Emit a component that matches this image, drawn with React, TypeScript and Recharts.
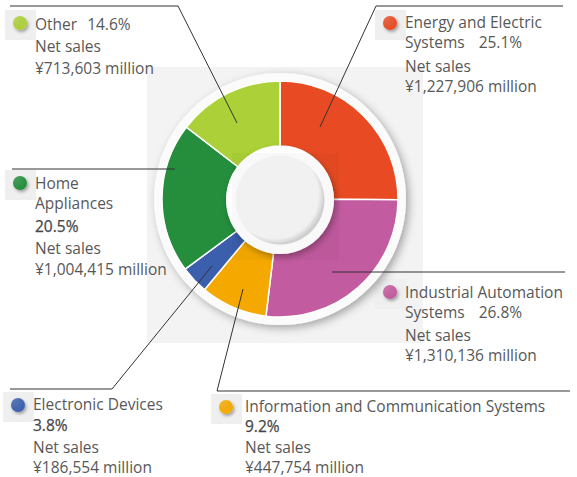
import React from 'react';
import { PieChart, Pie, Cell } from 'recharts';

const segments = [
  'Energy and Electric Systems',
  'Industrial Automation Systems',
  'Information and Communication Systems',
  'Electronic Devices',
  'Home Appliances',
  'Other',
];
const netSales = [1227906, 1310136, 447754, 186554, 1004415, 713603];
const shares = [25.1, 26.8, 9.2, 3.8, 20.5, 14.6];
const colors = ['#e84b23', '#c25b9f', '#f5a900', '#3b5fad', '#248e3c', '#acd037'];

const W = 577;
const H = 477;
const CX = 280;
const CY = 199;

// label placement, per segment (same order as above)
const layout = [
  { x: 405, lines: [28, 48, 72, 92], wrap: 3, pctInline: true, gap: 14, marker: [390, 23], leader: [[320, 127], [376, 6], [563, 6]] },
  { x: 405, lines: [298, 318, 341, 361], wrap: 2, pctInline: true, gap: 14, marker: [390, 292], leader: [[332, 272], [565, 272]] },
  { x: 245, lines: [412, 432, 453, 473], wrap: 0, pctInline: false, gap: 0, marker: [226, 407], leader: [[243, 289], [217, 391], [570, 391]] },
  { x: 33, lines: [410, 431, 453, 473], wrap: 0, pctInline: false, gap: 0, marker: [18, 405], leader: [[212, 266], [112, 389], [10, 389]] },
  { x: 35, lines: [189, 209, 232, 254, 275], wrap: 1, pctInline: false, gap: 0, marker: [20, 183], leader: [[175, 169], [12, 169]] },
  { x: 35, lines: [30, 52, 74], wrap: 0, pctInline: true, gap: 10, marker: [20, 23], leader: [[237, 123], [178, 6], [10, 6]] },
];

const data = segments.map((name, i) => ({ name, value: netSales[i], share: shares[i] }));
const whole = [{ name: 'ring', value: 1 }];

const font = '"Open Sans", "DejaVu Sans", sans-serif';
const textColor = '#585858';

function Label({ i }: { i: number }) {
  const l = layout[i];
  const words = segments[i].split(' ');
  const nameLines = l.wrap > 0 ? [words.slice(0, l.wrap).join(' '), words.slice(l.wrap).join(' ')].filter(s => s) : [segments[i]];
  const pct = `${shares[i].toFixed(1)}%`;
  const rows: React.ReactNode[] = [];
  let k = 0;
  nameLines.forEach((s, j) => {
    const last = j === nameLines.length - 1;
    rows.push(
      <text key={k} x={l.x} y={l.lines[k]}>
        {s}
        {last && l.pctInline ? <tspan dx={l.gap}>{pct}</tspan> : null}
      </text>
    );
    k++;
  });
  if (!l.pctInline) {
    rows.push(<text key={k} x={l.x} y={l.lines[k]} fill="#474747" stroke="#474747" strokeWidth={0.25}>{pct}</text>);
    k++;
  }
  rows.push(<text key={k} x={l.x} y={l.lines[k]}>Net sales</text>);
  k++;
  rows.push(<text key={k} x={l.x} y={l.lines[k]}>{`¥${netSales[i].toLocaleString('en-US')} million`}</text>);
  return <g>{rows}</g>;
}

export default function App() {
  return (
    <div style={{ position: 'absolute', left: 0, top: 0, width: W, height: H, background: '#fff', overflow: 'hidden' }}>
      <svg width={W} height={H} style={{ position: 'absolute', left: 0, top: 0 }}>
        <defs>
          <filter id="ringShadow" x="-20%" y="-20%" width="140%" height="140%">
            <feDropShadow dx="3" dy="3" stdDeviation="4.5" floodColor="#000" floodOpacity="0.32" />
          </filter>
          <filter id="innerShadow" x="-30%" y="-30%" width="160%" height="160%">
            <feDropShadow dx="2" dy="3" stdDeviation="3" floodColor="#000" floodOpacity="0.3" />
          </filter>
          <filter id="dotShadow" x="-60%" y="-60%" width="220%" height="220%">
            <feDropShadow dx="1.5" dy="2" stdDeviation="1.5" floodColor="#000" floodOpacity="0.35" />
          </filter>
          <radialGradient id="holeGrad" cx="44%" cy="44%" r="56%">
            <stop offset="88%" stopColor="#f7f7f7" />
            <stop offset="100%" stopColor="#d4d4d4" />
          </radialGradient>
          {colors.map((c, i) => (
            <radialGradient key={i} id={`dot${i}`} cx="35%" cy="30%" r="75%">
              <stop offset="0%" stopColor={c} stopOpacity={0.8} />
              <stop offset="100%" stopColor={c} />
            </radialGradient>
          ))}
        </defs>
        <rect x={147} y={67} width={276} height={276} fill="#f3f3f3" />
        {layout.map((l, i) => (
          <rect key={i} x={l.marker[0] - 15} y={l.marker[1] - 13} width={31} height={30} fill="#efefef" />
        ))}
      </svg>

      <div style={{ position: 'absolute', left: 0, top: 0 }}>
        <PieChart width={W} height={H} margin={{ top: 0, right: 0, bottom: 0, left: 0 }}>
          <Pie data={whole} dataKey="value" cx={CX} cy={CY} innerRadius={0} outerRadius={126} startAngle={90} endAngle={-270} stroke="none" isAnimationActive={false}>
            <Cell fill="#fbfbfb" filter="url(#ringShadow)" />
          </Pie>
          <Pie data={data} dataKey="value" cx={CX} cy={CY} innerRadius={53} outerRadius={118} startAngle={90} endAngle={-270} stroke="#fff" strokeWidth={1.5} isAnimationActive={false}>
            {data.map((d, i) => (
              <Cell key={d.name} fill={colors[i]} />
            ))}
          </Pie>
          <Pie data={whole} dataKey="value" cx={CX} cy={CY + 1} innerRadius={0} outerRadius={54} startAngle={90} endAngle={-270} stroke="none" isAnimationActive={false}>
            <Cell fill="#ffffff" filter="url(#innerShadow)" />
          </Pie>
          <Pie data={whole} dataKey="value" cx={CX} cy={CY + 1} innerRadius={0} outerRadius={44.5} startAngle={90} endAngle={-270} stroke="none" isAnimationActive={false}>
            <Cell fill="url(#holeGrad)" />
          </Pie>
        </PieChart>
      </div>

      <svg width={W} height={H} style={{ position: 'absolute', left: 0, top: 0 }} fontFamily={font} fontSize={15.5} fill={textColor}>
        <rect x={232} y={153} width={107} height={107} fill="#000" fillOpacity={0.025} />
        {layout.map((l, i) => (
          <polyline key={i} points={l.leader.map(p => p.join(',')).join(' ')} fill="none" stroke="#333" strokeWidth={1} />
        ))}
        {layout.map((l, i) => (
          <circle key={i} cx={l.marker[0]} cy={l.marker[1]} r={7} fill={`url(#dot${i})`} filter="url(#dotShadow)" />
        ))}
        {layout.map((_, i) => (
          <Label key={i} i={i} />
        ))}
      </svg>
    </div>
  );
}
